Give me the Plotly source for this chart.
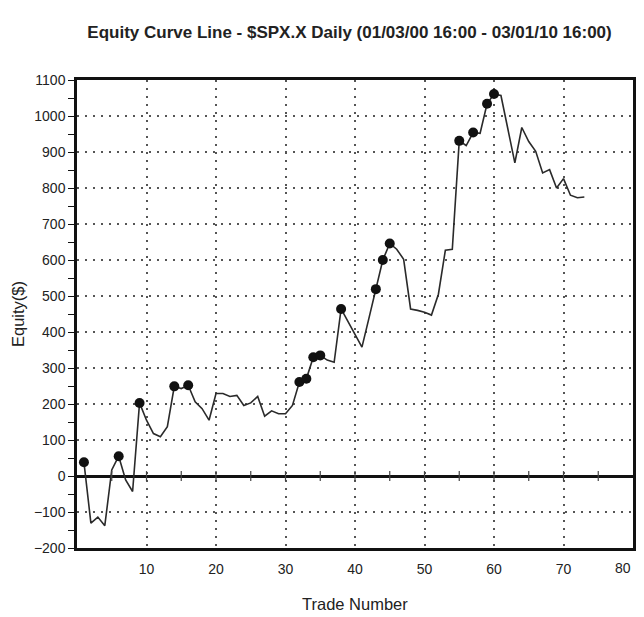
import plotly.graph_objects as go

trade_number = list(range(1, 74))
equity = [38, -131, -114, -138, 17, 55, -11, -43, 203, 155,
          118, 109, 137, 249, 243, 252, 206, 187, 155, 229,
          229, 221, 224, 196, 203, 221, 166, 181, 173, 173,
          196, 261, 270, 330, 335, 322, 316, 464, 429, 393,
          358, 438, 519, 600, 646, 630, 602, 464, 460, 455,
          447, 505, 627, 630, 931, 918, 954, 952, 1034, 1061,
          1057, 965, 870, 968, 929, 902, 842, 851, 800, 826,
          780, 773, 775]

x_tick_vals = [10, 20, 30, 40, 50, 60, 70]
x_last_tick = 80
y_tick_vals = list(range(-200, 1101, 100))
zero_ticks = list(range(5, 80, 5))

# new equity highs
hx, hy = [], []
best = None
for t, e in zip(trade_number, equity):
    if best is None or e > best:
        best = e
        hx.append(t)
        hy.append(e)

fig = go.Figure()
fig.add_trace(go.Scatter(x=trade_number, y=equity, mode="lines",
                         line=dict(color="#2a2a2a", width=1.6), hoverinfo="skip"))
fig.add_trace(go.Scatter(x=hx, y=hy, mode="markers",
                         marker=dict(color="#111111", size=10), hoverinfo="skip"))
fig.add_trace(go.Scatter(x=zero_ticks, y=[0] * len(zero_ticks), mode="markers",
                         marker=dict(symbol="line-ns", size=7,
                                     line=dict(color="#444", width=1.2)),
                         hoverinfo="skip"))

fig.update_layout(
    width=636, height=609,
    paper_bgcolor="white", plot_bgcolor="white",
    margin=dict(l=69, r=8, t=72, b=69),
    showlegend=False,
    font=dict(family="Liberation Sans, Arial, sans-serif", color="#222", size=14),
    title=dict(text="<b>Equity Curve Line - $SPX.X Daily (01/03/00 16:00 - 03/01/10 16:00)</b>",
               x=0.537, xanchor="center", y=0.9606, yanchor="middle",
               font=dict(size=17, color="#222")),
    annotations=[
        dict(text="Trade Number", x=0.5, y=0, xref="paper", yref="paper",
             xanchor="center", yanchor="middle", yshift=-56, showarrow=False,
             font=dict(size=16.5)),
        dict(text="Equity($)", x=0, y=0.5, xref="paper", yref="paper",
             xanchor="center", yanchor="middle", xshift=-59, textangle=-90,
             showarrow=False, font=dict(size=16.5)),
        dict(text=str(x_last_tick), x=x_last_tick, y=0, xref="x", yref="paper",
             xanchor="right", yanchor="middle", yshift=-20, showarrow=False,
             font=dict(size=14)),
    ],
)
grid_dash = "2px,6px"
fig.update_xaxes(range=[0, 80], tickvals=x_tick_vals, ticks="",
                 ticklabelstandoff=6,
                 showline=True, linecolor="#111", linewidth=2.5, mirror=True,
                 showgrid=True, gridcolor="#555", griddash=grid_dash, gridwidth=1.5,
                 zeroline=False, tickfont=dict(size=14))
fig.update_yaxes(range=[-200, 1100], tickvals=y_tick_vals, ticks="outside",
                 ticklen=6, tickwidth=1, tickcolor="#111",
                 minor=dict(dtick=50, tick0=0, ticks="outside", ticklen=6,
                            tickcolor="#111", showgrid=False),
                 showline=True, linecolor="#111", linewidth=2.5, mirror=True,
                 showgrid=True, gridcolor="#555", griddash=grid_dash, gridwidth=1.5,
                 zeroline=True, zerolinecolor="#111", zerolinewidth=3,
                 tickfont=dict(size=14))

fig.write_html("out.html")
